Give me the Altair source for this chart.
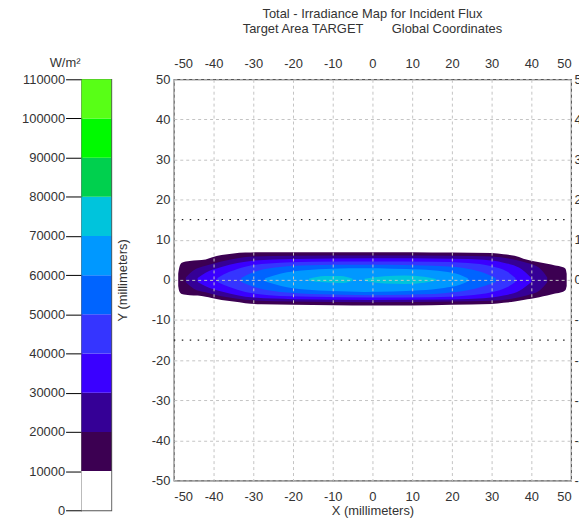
import altair as alt
import pandas as pd

FONT = "Liberation Sans"

# ---------------- colour bar (W/m²) ----------------
cb_lo = [0, 10000, 20000, 30000, 40000, 50000, 60000, 70000, 80000, 90000, 100000]
cb_hi = [10000, 20000, 30000, 40000, 50000, 60000, 70000, 80000, 90000, 100000, 110000]
cb_thresholds = [10000, 20000, 30000, 40000, 50000, 60000, 70000, 80000, 90000, 100000]
cb_colors = ["#ffffff", "#3c0052", "#350096", "#3a00ff", "#3535ff", "#0064ff",
             "#0098ff", "#00c4dc", "#00d04e", "#00fa00", "#58ff16"]
cb_ticks = [0, 10000, 20000, 30000, 40000, 50000, 60000, 70000, 80000, 90000, 100000, 110000]

# ---------------- beam contours (mm): region at or above each level ----------------
l1_x = [-48.9, -48.6, -48, -46, -44, -42, -40.5, -38, -35, -32, -28, -20, -10, 0, 10, 20, 30, 33, 35.8, 38, 40, 42, 44, 46, 47.8, 48.6, 48.9]
l1_top = [1.5, 3.2, 4.3, 4.7, 4.9, 5.1, 5.6, 6.2, 6.6, 6.8, 6.9, 6.9, 6.9, 6.9, 6.9, 6.8, 6.7, 6.4, 6.0, 5.3, 4.8, 4.4, 4.0, 3.6, 3.2, 2.8, 1.5]
l1_bot = [-1.5, -2.9, -3.5, -3.8, -3.9, -4.2, -4.5, -5.0, -5.4, -5.8, -6.1, -6.2, -6.3, -6.4, -6.4, -6.2, -6.0, -5.7, -5.4, -5.0, -4.7, -4.3, -3.9, -3.4, -3.0, -2.5, -1.5]

l2_x = [-47, -45, -42, -38, -34, -30, -20, 0, 20, 30, 35, 39, 42, 44]
l2_top = [0.6, 2.4, 3.5, 4.6, 5.4, 5.8, 6.0, 6.1, 6.0, 5.8, 5.2, 4.2, 3.0, 0.6]
l2_bot = [-0.6, -2.2, -3.1, -4.1, -4.7, -5.1, -5.4, -5.6, -5.4, -5.2, -4.7, -3.8, -2.7, -0.6]

l3_x = [-44, -42, -38, -34, -30, -20, 0, 20, 28, 33, 37, 40]
l3_top = [0.5, 1.8, 3.2, 4.2, 4.8, 5.2, 5.4, 5.3, 5.0, 4.3, 3.0, 0.5]
l3_bot = [-0.5, -1.6, -2.9, -3.8, -4.4, -4.8, -5.0, -4.9, -4.6, -3.9, -2.7, -0.5]

l4_x = [-39, -36, -32, -26, -15, 0, 15, 24, 30, 34, 36]
l4_top = [0.5, 2.0, 3.3, 4.1, 4.5, 4.6, 4.5, 4.2, 3.4, 2.0, 0.5]
l4_bot = [-0.5, -1.8, -3.0, -3.8, -4.2, -4.4, -4.3, -3.9, -3.1, -1.8, -0.5]

l5_x = [-33, -30, -25, -18, -8, 0, 8, 18, 24, 28, 31]
l5_top = [0.5, 1.9, 3.0, 3.6, 3.8, 3.8, 3.7, 3.4, 2.8, 1.8, 0.5]
l5_bot = [-0.5, -1.7, -2.8, -3.4, -3.7, -3.8, -3.7, -3.3, -2.6, -1.6, -0.5]

l6_x = [-27, -23, -17, -10, -2, 5, 12, 18, 22, 24]
l6_top = [0.4, 1.6, 2.4, 2.8, 2.9, 2.8, 2.6, 2.1, 1.3, 0.4]
l6_bot = [-0.4, -1.5, -2.4, -2.8, -3.0, -2.9, -2.6, -2.0, -1.2, -0.4]

l7_x = [-16, -12, -8, -5, -2, 3, 8, 13, 16]
l7_top = [0.3, 1.0, 1.0, 0.3, 0.3, 0.9, 1.1, 0.8, 0.2]
l7_bot = [-0.2, -0.6, -0.8, -0.2, -0.3, -0.9, -1.0, -0.7, -0.2]
l7_patch = ["a", "a", "a", "a", "b", "b", "b", "b", "b"]

levels = [
    (10000, l1_x, l1_top, l1_bot, None),
    (20000, l2_x, l2_top, l2_bot, None),
    (30000, l3_x, l3_top, l3_bot, None),
    (40000, l4_x, l4_top, l4_bot, None),
    (50000, l5_x, l5_top, l5_bot, None),
    (60000, l6_x, l6_top, l6_bot, None),
    (70000, l7_x, l7_top, l7_bot, l7_patch),
]

# target-area limits (dotted lines)
limit_y = [15, -15]
limit_x0 = [-50, -50]
limit_x1 = [50, 50]

ticks = [-50, -40, -30, -20, -10, 0, 10, 20, 30, 40, 50]
LBL = "'' + datum.value"

xs = alt.Scale(domain=[-50, 50], nice=False, zero=False)
ys = alt.Scale(domain=[-50, 50], nice=False, zero=False)
cscale = alt.Scale(type="threshold", domain=cb_thresholds, range=cb_colors)

grid_kw = dict(grid=True, gridDash=[3, 3], gridColor="#c4c4c4", gridWidth=1, zindex=1)

x_bottom = alt.X("x:Q", scale=xs, axis=alt.Axis(
    orient="bottom", values=ticks, title="X (millimeters)", ticks=False, labelExpr=LBL,
    labelPadding=10, titlePadding=1, domain=False, **grid_kw))
y_left = alt.Axis(orient="left", values=ticks, title="Y (millimeters)", ticks=False, labelExpr=LBL,
                  labelPadding=4, titlePadding=22, domain=False, **grid_kw)

area_layers = []
for val, xv, tv, bv, patch in levels:
    df = pd.DataFrame({"x": xv, "top": tv, "bot": bv})
    df["level"] = val
    df["patch"] = patch if patch is not None else "a"
    area_layers.append(
        alt.Chart(df).mark_area(interpolate="monotone").encode(
            x=x_bottom,
            y=alt.Y("top:Q", scale=ys, axis=y_left),
            y2="bot:Q",
            color=alt.Color("level:Q", scale=cscale, legend=None),
            detail="patch:N",
        )
    )

lim_df = pd.DataFrame({"y": limit_y, "x0": limit_x0, "x1": limit_x1})
limits = alt.Chart(lim_df).mark_rule(color="#222", strokeDash=[1.5, 6.5], strokeWidth=1.3).encode(
    x=alt.X("x0:Q", scale=xs, axis=alt.Axis(orient="top", values=ticks, title=None, ticks=False,
                                             labelExpr=LBL, labelPadding=9, domain=False, grid=False)),
    x2="x1:Q",
    y=alt.Y("y:Q", scale=ys, axis=alt.Axis(orient="right", values=ticks, title=None, ticks=False,
                                            labelExpr=LBL, labelPadding=3, domain=False, grid=False)),
)

NB = "\u00a0"
main = alt.layer(alt.layer(*area_layers), limits).resolve_axis(
    x="independent", y="independent"
).properties(
    width=400, height=404,
    title=alt.Title(
        ["Total - Irradiance Map for Incident Flux",
         "Target Area TARGET " + NB * 6 + " Global Coordinates" + NB * 6],
        frame="group", anchor="middle", fontSize=13, fontWeight="normal",
        color="#333", font=FONT, lineHeight=15, offset=22),
)

cb_df = pd.DataFrame({"lo": cb_lo, "hi": cb_hi})
colorbar = alt.Chart(cb_df).mark_rect().encode(
    y=alt.Y("lo:Q", scale=alt.Scale(domain=[0, 110000], nice=False, zero=True),
            axis=alt.Axis(values=cb_ticks, format="d", tickSize=16, tickColor="#000",
                          tickWidth=1, domainColor="#777", labelPadding=1, title=None,
                          grid=False)),
    y2="hi:Q",
    color=alt.Color("lo:Q", scale=cscale, legend=None),
).properties(
    width=30, height=434,
    title=alt.Title("W/m²", frame="group", anchor="start", dx=-32, fontSize=13,
                    fontWeight="normal", color="#333", font=FONT, offset=3),
)

chart = alt.hconcat(colorbar, main, spacing=3).properties(
    padding={"left": 13, "top": -3, "right": -15, "bottom": 0},
    background="white",
).configure_view(
    stroke="#555", strokeWidth=1.2
).configure_axis(
    labelFont=FONT, titleFont=FONT, labelFontSize=13, titleFontSize=13,
    labelColor="#333", titleColor="#333", titleFontWeight="normal",
).configure_title(font=FONT)

chart.save("out.html", embed_options={"renderer": "svg", "actions": False})
